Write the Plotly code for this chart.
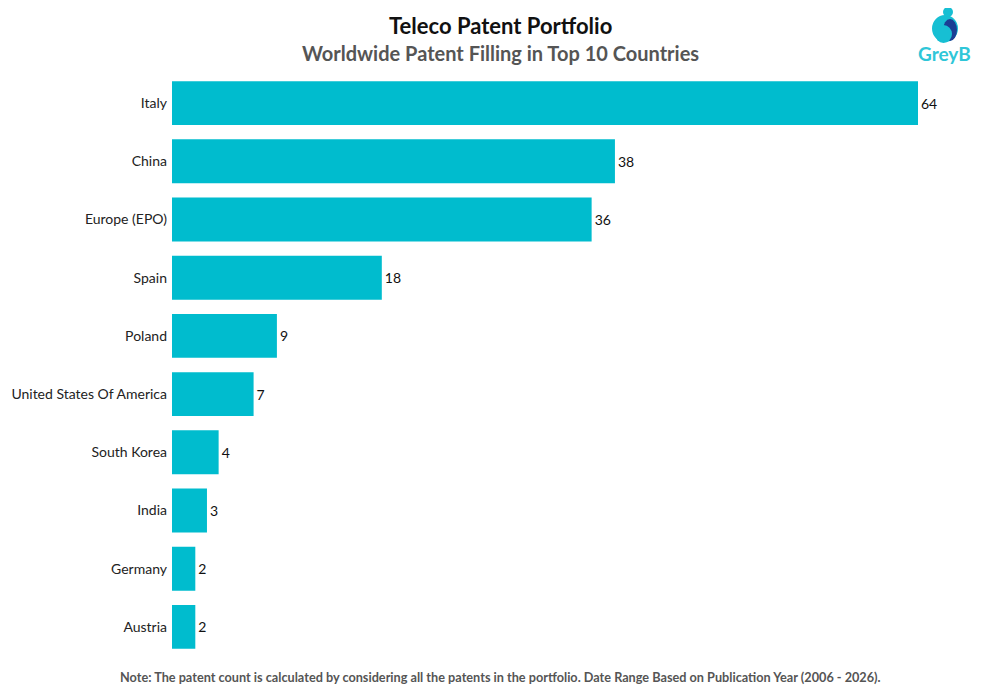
import plotly.graph_objects as go

# data
countries = ['Italy', 'China', 'Europe (EPO)', 'Spain', 'Poland',
             'United States Of America', 'South Korea', 'India', 'Germany', 'Austria']
patents = [64, 38, 36, 18, 9, 7, 4, 3, 2, 2]

bar_color = '#00BCCE'
font = 'Lato, "Open Sans", sans-serif'

fig = go.Figure()
fig.add_trace(go.Bar(
    x=patents,
    y=countries,
    orientation='h',
    marker=dict(color=bar_color, line=dict(width=0)),
    text=patents,
    textposition='outside',
    textfont=dict(size=14, color='#111111', family=font),
    cliponaxis=False,
    hoverinfo='x+y',
))

# page has an 8px body margin, so size the figure to fit the window
fig.update_layout(
    width=992,
    height=692,
    margin=dict(l=164, r=82, t=66, b=44),
    plot_bgcolor='white',
    paper_bgcolor='white',
    bargap=0.245,
    showlegend=False,
    font=dict(family=font, size=14, color='#222222'),
    xaxis=dict(range=[0, 64], visible=False, fixedrange=True, automargin=False),
    yaxis=dict(autorange='reversed', showgrid=False, zeroline=False, automargin=False,
               ticks='', ticklabelstandoff=4, tickfont=dict(size=14, color='#222222')),
)

mid = (500 - 172) / 746  # centre of the page, in paper units

# titles
fig.add_annotation(text='<b>Teleco Patent Portfolio</b>', xref='paper', yref='paper',
                   x=mid, y=1, xanchor='center', yanchor='bottom', yshift=33,
                   showarrow=False, font=dict(size=22, color='#111111', family=font))
fig.add_annotation(text='<b>Worldwide Patent Filling in Top 10 Countries</b>', xref='paper',
                   yref='paper', x=mid, y=1, xanchor='center', yanchor='bottom', yshift=7,
                   showarrow=False, font=dict(size=20, color='#555555', family=font))

# footnote
fig.add_annotation(text='<b>Note: The patent count is calculated by considering all the patents in the portfolio. '
                        'Date Range Based on Publication Year (2006 - 2026).</b>',
                   xref='paper', yref='paper', x=mid, y=0, xanchor='center', yanchor='top',
                   yshift=-11, showarrow=False,
                   font=dict(size=12.7, color='#555555', family=font))

# GreyB logo (approximate)
lx = (945 - 172) / 746
ly = 1 + (74 - 28) / 582
logo_light = '#17BFD3'
logo_dark = '#1B3E94'
fig.add_shape(type='circle', xref='paper', yref='paper', xsizemode='pixel', ysizemode='pixel',
              xanchor=lx, yanchor=ly, x0=-13, x1=13, y0=-14, y1=13,
              fillcolor=logo_light, line=dict(width=0))
fig.add_shape(type='circle', xref='paper', yref='paper', xsizemode='pixel', ysizemode='pixel',
              xanchor=lx, yanchor=ly, x0=-2, x1=12, y0=-13, y1=9,
              fillcolor=logo_dark, line=dict(width=0))
fig.add_shape(type='circle', xref='paper', yref='paper', xsizemode='pixel', ysizemode='pixel',
              xanchor=lx, yanchor=ly, x0=-10, x1=7, y0=-15, y1=3,
              fillcolor=logo_light, line=dict(width=0))
fig.add_shape(type='circle', xref='paper', yref='paper', xsizemode='pixel', ysizemode='pixel',
              xanchor=lx, yanchor=ly, x0=-2, x1=8, y0=11, y1=21,
              fillcolor=logo_light, line=dict(width=0))
fig.add_annotation(text='<b>GreyB</b>', xref='paper', yref='paper', x=lx, y=1 + (74 - 54) / 582,
                   xanchor='center', yanchor='middle', showarrow=False,
                   font=dict(size=19, color='#2FC6D8', family=font))

fig.write_html('out.html')
